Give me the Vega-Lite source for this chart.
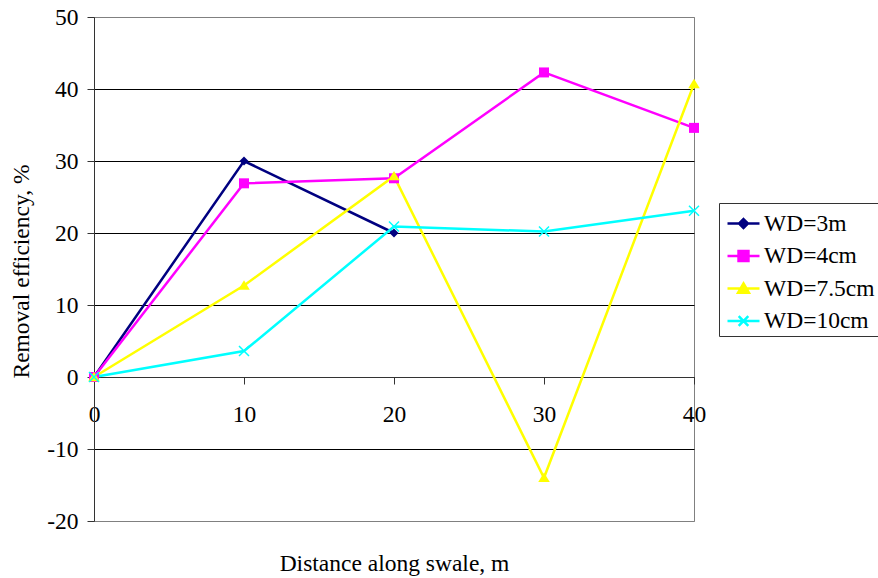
{
  "$schema": "https://vega.github.io/schema/vega-lite/v6.json",
  "width": 600,
  "height": 504,
  "autosize": "none",
  "padding": {"left": 94, "top": 17, "right": 184, "bottom": 57},
  "background": "white",
  "config": {
    "view": {"stroke": "#808080", "strokeWidth": 1},
    "font": "Liberation Serif, Times New Roman, DejaVu Serif, serif"
  },
  "data": {
    "values": [
      {"series": "WD=3m", "x": 0, "y": 0},
      {"series": "WD=3m", "x": 10, "y": 30},
      {"series": "WD=3m", "x": 20, "y": 20},
      {"series": "WD=4cm", "x": 0, "y": 0},
      {"series": "WD=4cm", "x": 10, "y": 26.9},
      {"series": "WD=4cm", "x": 20, "y": 27.6},
      {"series": "WD=4cm", "x": 30, "y": 42.3},
      {"series": "WD=4cm", "x": 40, "y": 34.6},
      {"series": "WD=7.5cm", "x": 0, "y": 0},
      {"series": "WD=7.5cm", "x": 10, "y": 12.7},
      {"series": "WD=7.5cm", "x": 20, "y": 27.9},
      {"series": "WD=7.5cm", "x": 30, "y": -14},
      {"series": "WD=7.5cm", "x": 40, "y": 40.7},
      {"series": "WD=10cm", "x": 0, "y": 0},
      {"series": "WD=10cm", "x": 10, "y": 3.6},
      {"series": "WD=10cm", "x": 20, "y": 20.9},
      {"series": "WD=10cm", "x": 30, "y": 20.2},
      {"series": "WD=10cm", "x": 40, "y": 23.1}
    ]
  },
  "encoding": {
    "x": {
      "field": "x",
      "type": "quantitative",
      "scale": {"domain": [0, 40], "nice": false, "zero": false},
      "axis": {
        "title": "Distance along swale, m",
        "values": [0, 10, 20, 30, 40],
        "labelExpr": "toString(datum.value)",
        "offset": -144,
        "grid": false,
        "domainColor": "#333333",
        "domainWidth": 1,
        "tickColor": "#333333",
        "tickSize": 7,
        "labelFont": "Liberation Serif, Times New Roman, DejaVu Serif, serif",
        "labelFontSize": 23.5,
        "labelColor": "black",
        "labelPadding": 18,
        "labelFlush": false,
        "titleFont": "Liberation Serif, Times New Roman, DejaVu Serif, serif",
        "titleFontSize": 23.5,
        "titleFontWeight": "normal",
        "titleColor": "black",
        "titleY": 193,
        "titleBaseline": "alphabetic"
      }
    },
    "y": {
      "field": "y",
      "type": "quantitative",
      "scale": {"domain": [-20, 50], "nice": false, "zero": false},
      "axis": {
        "title": "Removal efficiency, %",
        "values": [-20, -10, 0, 10, 20, 30, 40, 50],
        "labelExpr": "toString(datum.value)",
        "grid": true,
        "gridColor": {"condition": {"test": "datum.value == 50 || datum.value == -20", "value": "#808080"}, "value": "black"},
        "gridWidth": 1,
        "gridOpacity": 1,
        "domainColor": "#333333",
        "tickColor": "#333333",
        "tickSize": 7,
        "labelFont": "Liberation Serif, Times New Roman, DejaVu Serif, serif",
        "labelFontSize": 23.5,
        "labelColor": "black",
        "labelPadding": 9,
        "labelFlush": false,
        "titleFont": "Liberation Serif, Times New Roman, DejaVu Serif, serif",
        "titleFontSize": 23.5,
        "titleFontWeight": "normal",
        "titleColor": "black",
        "titleAngle": -90,
        "titleX": -66,
        "titleY": 254,
        "titleAlign": "center",
        "titleBaseline": "alphabetic"
      }
    },
    "color": {
      "field": "series",
      "type": "nominal",
      "scale": {
        "domain": ["WD=3m", "WD=4cm", "WD=7.5cm", "WD=10cm"],
        "range": ["#000080", "#FF00FF", "#FFFF00", "#00FFFF"]
      },
      "legend": {
        "title": null,
        "orient": "none",
        "legendX": 625,
        "legendY": 186,
        "strokeColor": "#333333",
        "fillColor": "white",
        "padding": 3,
        "symbolOffset": 4,
        "symbolSize": 1024,
        "symbolStrokeWidth": 2.5,
        "symbolOpacity": 1,
        "rowPadding": 3.5,
        "labelFont": "Liberation Serif, Times New Roman, DejaVu Serif, serif",
        "labelFontSize": 23.5,
        "labelColor": "black",
        "labelOffset": 3,
        "labelLimit": 300
      }
    }
  },
  "layer": [
    {
      "mark": {"type": "line", "strokeWidth": 2.5, "opacity": 1}
    },
    {
      "transform": [{"filter": "datum.series === 'WD=3m'"}],
      "mark": {"type": "point", "filled": true, "size": 81, "opacity": 1, "strokeWidth": 1, "shape": "M0,-1L1,0L0,1L-1,0Z"}
    },
    {
      "transform": [{"filter": "datum.series === 'WD=4cm'"}],
      "mark": {"type": "point", "filled": true, "size": 100, "opacity": 1, "strokeWidth": 1, "shape": "square"}
    },
    {
      "transform": [{"filter": "datum.series === 'WD=7.5cm'"}],
      "mark": {"type": "point", "filled": true, "size": 110, "opacity": 1, "strokeWidth": 1, "shape": "M0,-1L1.1,0.8L-1.1,0.8Z"}
    },
    {
      "transform": [{"filter": "datum.series === 'WD=10cm'"}],
      "mark": {"type": "point", "filled": false, "size": 100, "opacity": 1, "strokeWidth": 1.5, "shape": "M-1,-1L1,1M-1,1L1,-1"}
    },
    {
      "transform": [{"filter": "datum.x < 0"}],
      "mark": {"type": "point", "filled": true, "opacity": 1, "strokeWidth": 2.5},
      "encoding": {
        "shape": {
          "field": "series",
          "type": "nominal",
          "scale": {
            "domain": ["WD=3m", "WD=4cm", "WD=7.5cm", "WD=10cm"],
            "range": [
              "M-1,0L1,0M0,-0.28L0.28,0L0,0.28L-0.28,0Z",
              "M-1,0L1,0M-0.31,-0.31L0.31,-0.31L0.31,0.31L-0.31,0.31Z",
              "M-1,0L1,0M0,-0.32L0.34,0.26L-0.34,0.26Z",
              "M-1,0L1,0M-0.3,-0.3L0.3,0.3M-0.3,0.3L0.3,-0.3"
            ]
          },
          "legend": {
            "title": null,
            "orient": "none",
            "legendX": 625,
            "legendY": 186,
            "strokeColor": "#333333",
            "fillColor": "white",
            "padding": 3,
            "symbolOffset": 4,
            "symbolSize": 1024,
            "symbolStrokeWidth": 2.5,
            "symbolOpacity": 1,
            "rowPadding": 3.5,
            "labelFont": "Liberation Serif, Times New Roman, DejaVu Serif, serif",
            "labelFontSize": 23.5,
            "labelColor": "black",
            "labelOffset": 3,
            "labelLimit": 300
          }
        }
      }
    }
  ]
}
